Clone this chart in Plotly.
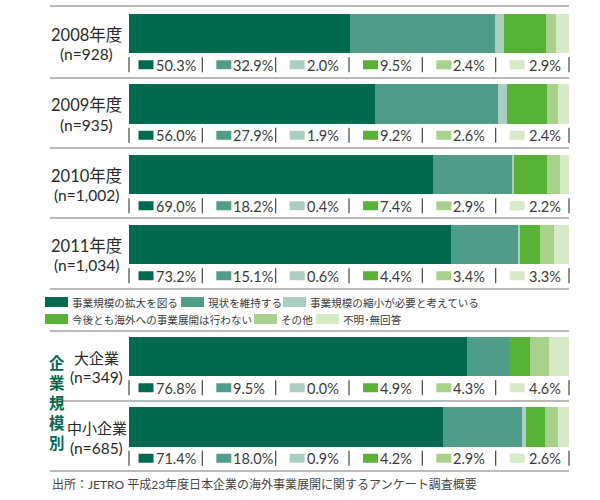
import plotly.graph_objects as go

# ---------------- data ----------------
groups = ["2008年度", "2009年度", "2010年度", "2011年度", "大企業", "中小企業"]
n_labels = ["(n=928)", "(n=935)", "(n=1,002)", "(n=1,034)", "(n=349)", "(n=685)"]
categories = ["事業規模の拡大を図る", "現状を維持する", "事業規模の縮小が必要と考えている",
              "今後とも海外への事業展開は行わない", "その他", "不明･無回答"]
expand = [50.3, 56.0, 69.0, 73.2, 76.8, 71.4]
maintain = [32.9, 27.9, 18.2, 15.1, 9.5, 18.0]
shrink = [2.0, 1.9, 0.4, 0.6, 0.0, 0.9]
withdraw = [9.5, 9.2, 7.4, 4.4, 4.9, 4.2]
other = [2.4, 2.6, 2.9, 3.4, 4.3, 2.9]
unknown = [2.9, 2.4, 2.2, 3.3, 4.6, 2.6]
side_title = "企業規模別"
source = "出所：JETRO 平成23年度日本企業の海外事業展開に関するアンケート調査概要"

series = [expand, maintain, shrink, withdraw, other, unknown]
colors = ["#006a4e", "#4f9d88", "#aacfc2", "#57b236", "#a8d28b", "#d6eac5"]

# ---------------- layout constants (pixels) ----------------
W, H = 600, 500
BAR_L, BAR_R = 129, 569
centers = [33.5, 104, 174.5, 244.5, 356.5, 427]
BAR_H = 39.5
LINE_L = 50
NUM_FONT = "Lato, 'Noto Sans CJK JP', sans-serif"
JP_FONT = "'Noto Sans CJK JP', sans-serif"
TXT = "#3a3a3a"


def px(x):
    return x / W


def pct(x):
    return (x - BAR_L) / (BAR_R - BAR_L) * 100


fig = go.Figure()
for name, vals, col in zip(categories, series, colors):
    fig.add_trace(go.Bar(
        y=centers, x=vals, orientation="h", name=name,
        marker=dict(color=col, line=dict(width=0)),
        width=BAR_H, showlegend=False, hoverinfo="x+name"))

shapes = []
ann = []

# separator lines
sep_y = [6, 78, 148, 218, 289, 331, 401, 471]
for y in sep_y:
    shapes.append(dict(type="line", xref="paper", yref="y", x0=px(LINE_L), x1=px(BAR_R),
                       y0=y, y1=y, line=dict(color="#a3a3a3", width=1.6)))

cell_w = (BAR_R - BAR_L) / 6
for gi, c in enumerate(centers):
    bottom = c + BAR_H / 2
    # group labels
    cx = 86 if gi < 4 else 97
    ann.append(dict(text=groups[gi], xref="paper", yref="y", x=px(cx), y=c + 1,
                    xanchor="center", yanchor="middle", showarrow=False,
                    font=dict(family=NUM_FONT, size=16.5 if gi < 4 else 15, color="#2a2a2a")))
    ann.append(dict(text=n_labels[gi], xref="paper", yref="y", x=px(cx), y=c + 20.5,
                    xanchor="center", yanchor="middle", showarrow=False,
                    font=dict(family=NUM_FONT, size=15.5, color="#2a2a2a")))
    # value row
    for k in range(7):
        xx = BAR_L + k * cell_w
        shapes.append(dict(type="line", xref="paper", yref="y", x0=px(xx), x1=px(xx),
                           y0=bottom + 4, y1=bottom + 19, line=dict(color="#444444", width=1.2)))
    for k in range(6):
        left = BAR_L + k * cell_w + (9.5 if k == 0 else 14)
        shapes.append(dict(type="rect", xref="paper", yref="y", x0=px(left), x1=px(left + 15),
                           y0=bottom + 7, y1=bottom + 16, fillcolor=colors[k],
                           line=dict(width=0)))
        ann.append(dict(text=f"{series[k][gi]:.1f}%", xref="paper", yref="y",
                        x=px(left + 15 + (2 if k == 5 else 0)), y=bottom + 12,
                        xanchor="left", yanchor="middle", showarrow=False,
                        font=dict(family=NUM_FONT, size=14.5, color=TXT)))

# legend
leg = [(45, 302, 0), (181, 302, 1), (283, 302, 2), (45, 319, 3), (254, 319, 4), (316, 319, 5)]
for x0, y0, k in leg:
    shapes.append(dict(type="rect", xref="paper", yref="y", x0=px(x0), x1=px(x0 + 23),
                       y0=y0 - 5, y1=y0 + 5, fillcolor=colors[k], line=dict(width=0)))
    ann.append(dict(text=categories[k], xref="paper", yref="y", x=px(x0 + 25), y=y0,
                    xanchor="left", yanchor="middle", showarrow=False,
                    font=dict(family=JP_FONT, size=10.6, color=TXT)))

# vertical side title
ann.append(dict(text="<br>".join(f"<b>{ch}</b>" for ch in side_title), xref="paper", yref="y",
                x=px(57), y=402, xanchor="center", yanchor="middle", showarrow=False,
                align="center", font=dict(family=JP_FONT, size=15.4, color="#006a4e")))

# source
ann.append(dict(text=source, xref="paper", yref="y", x=px(50), y=484,
                xanchor="left", yanchor="middle", showarrow=False,
                font=dict(family=NUM_FONT, size=12, color="#444444")))

fig.update_layout(
    width=W, height=H, margin=dict(l=0, r=0, t=0, b=0),
    paper_bgcolor="white", plot_bgcolor="white",
    barmode="stack", bargap=0,
    xaxis=dict(range=[pct(0), pct(W)], domain=[0, 1], visible=False, fixedrange=True),
    yaxis=dict(range=[H, 0], domain=[0, 1], visible=False, fixedrange=True),
    shapes=shapes, annotations=ann, showlegend=False,
)

fig.write_html("out.html")
